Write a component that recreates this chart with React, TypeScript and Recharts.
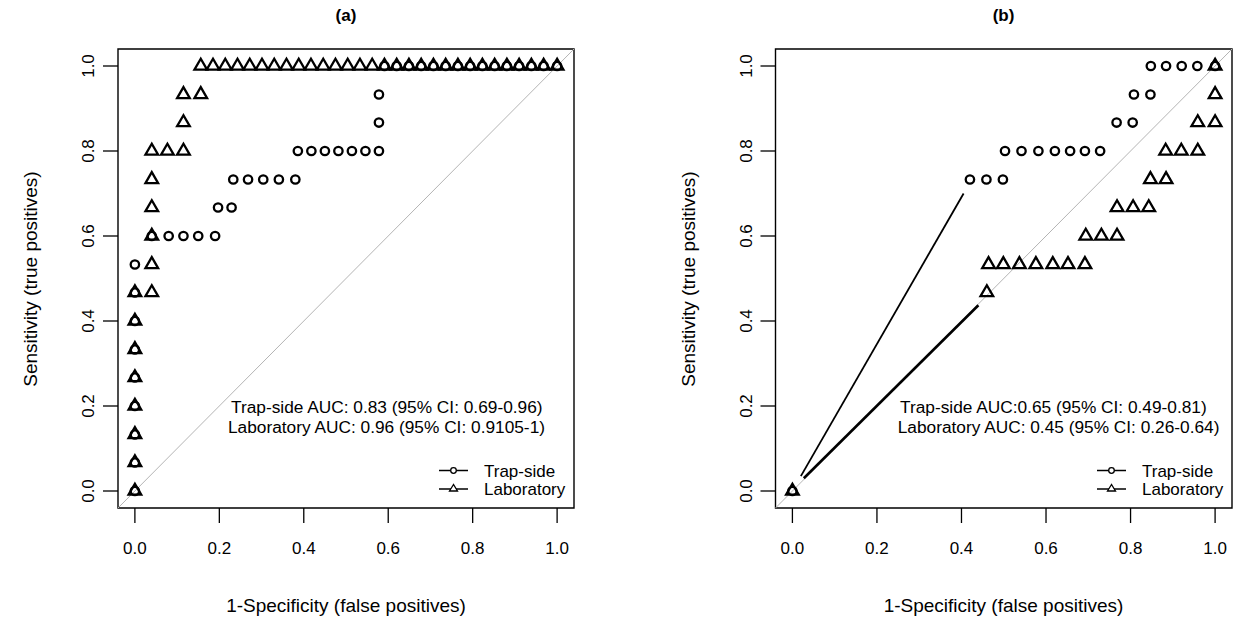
import React from 'react';
import { ScatterChart, Scatter, XAxis, YAxis, ReferenceLine, ReferenceArea } from 'recharts';

const axisTicks = [0, 0.2, 0.4, 0.6, 0.8, 1.0];
const seriesNames = ['Trap-side', 'Laboratory'];
const xTitle = '1-Specificity (false positives)';
const yTitle = 'Sensitivity (true positives)';

// panel (a)
const trapA_fpr = [0, 0, 0, 0, 0, 0, 0, 0, 0, 0.04, 0.08, 0.115, 0.15, 0.19, 0.197, 0.229, 0.233, 0.268, 0.304, 0.341, 0.38, 0.386, 0.418, 0.45, 0.482, 0.514, 0.546, 0.578, 0.578, 0.578, 0.591, 0.62, 0.649, 0.678, 0.707, 0.736, 0.765, 0.794, 0.823, 0.852, 0.881, 0.91, 0.939, 0.968, 1.0];
const trapA_tpr = [0, 0.067, 0.133, 0.2, 0.267, 0.333, 0.4, 0.467, 0.533, 0.6, 0.6, 0.6, 0.6, 0.6, 0.667, 0.667, 0.733, 0.733, 0.733, 0.733, 0.733, 0.8, 0.8, 0.8, 0.8, 0.8, 0.8, 0.8, 0.867, 0.933, 1, 1, 1, 1, 1, 1, 1, 1, 1, 1, 1, 1, 1, 1, 1];
const labA_fpr = [0, 0, 0, 0, 0, 0, 0, 0, 0.04, 0.04, 0.04, 0.04, 0.04, 0.04, 0.077, 0.115, 0.115, 0.115, 0.156, 0.156, 0.185, 0.214, 0.243, 0.272, 0.301, 0.33, 0.359, 0.388, 0.417, 0.446, 0.475, 0.504, 0.533, 0.562, 0.591, 0.62, 0.649, 0.678, 0.707, 0.736, 0.765, 0.794, 0.823, 0.852, 0.881, 0.91, 0.939, 0.968, 1.0];
const labA_tpr = [0, 0.067, 0.133, 0.2, 0.267, 0.333, 0.4, 0.467, 0.467, 0.533, 0.6, 0.667, 0.733, 0.8, 0.8, 0.8, 0.867, 0.933, 0.933, 1, 1, 1, 1, 1, 1, 1, 1, 1, 1, 1, 1, 1, 1, 1, 1, 1, 1, 1, 1, 1, 1, 1, 1, 1, 1, 1, 1, 1, 1];
const aucTextA = ['Trap-side AUC: 0.83 (95% CI: 0.69-0.96)', 'Laboratory AUC: 0.96 (95% CI: 0.9105-1)'];

// panel (b)
const trapB_fpr = [0, 0.42, 0.459, 0.498, 0.503, 0.542, 0.582, 0.621, 0.657, 0.692, 0.728, 0.767, 0.805, 0.808, 0.847, 0.848, 0.884, 0.921, 0.958, 1.0];
const trapB_tpr = [0, 0.733, 0.733, 0.733, 0.8, 0.8, 0.8, 0.8, 0.8, 0.8, 0.8, 0.867, 0.867, 0.933, 0.933, 1, 1, 1, 1, 1];
const labB_fpr = [0, 0.46, 0.464, 0.499, 0.537, 0.576, 0.616, 0.652, 0.692, 0.694, 0.731, 0.768, 0.768, 0.806, 0.843, 0.847, 0.884, 0.883, 0.92, 0.959, 0.959, 1.0, 1.0, 1.0];
const labB_tpr = [0, 0.467, 0.533, 0.533, 0.533, 0.533, 0.533, 0.533, 0.533, 0.6, 0.6, 0.6, 0.667, 0.667, 0.667, 0.733, 0.733, 0.8, 0.8, 0.8, 0.867, 0.867, 0.933, 1];
// long joining segments (type "b" lines with gaps)
const trapSegB_fpr = [0.02, 0.405];
const trapSegB_tpr = [0.035, 0.7];
const labSegB_fpr = [0.027, 0.44];
const labSegB_tpr = [0.03, 0.437];
const aucTextB = ['Trap-side AUC:0.65 (95% CI: 0.49-0.81)', 'Laboratory AUC: 0.45 (95% CI: 0.26-0.64)'];

const zip = (xs: number[], ys: number[]) => xs.map((x, i) => ({ x, y: ys[i] }));

const FONT = '"Liberation Sans", Arial, sans-serif';

const CircleMark = (p: any) => (
  <circle cx={p.cx} cy={p.cy} r={4.2} fill="none" stroke="#000" strokeWidth={2.3} />
);

const TriangleMark = (p: any) => {
  const r = 7.3;
  const xc = r * 0.866;
  return (
    <polygon
      points={`${p.cx},${p.cy - r} ${p.cx - xc},${p.cy + r / 2} ${p.cx + xc},${p.cy + r / 2}`}
      fill="none"
      stroke="#000"
      strokeWidth={2.3}
    />
  );
};

const NoMark = () => <g />;

const XTick = (p: any) => (
  <text x={p.x} y={p.y} dy={29} textAnchor="middle" fontSize={17} fontFamily={FONT} fill="#000">
    {Number(p.payload.value).toFixed(1)}
  </text>
);

const YTick = (p: any) => {
  const tx = p.x - 7;
  return (
    <text x={tx} y={p.y} transform={`rotate(-90 ${tx} ${p.y})`} textAnchor="middle" fontSize={17} fontFamily={FONT} fill="#000">
      {Number(p.payload.value).toFixed(1)}
    </text>
  );
};

const Panel = ({ left, marginLeft, marginRight, trap, lab, segs }: any) => (
  <div style={{ position: 'absolute', left, top: 0 }}>
    <ScatterChart width={617} height={624} margin={{ top: 49, right: marginRight, bottom: 56, left: marginLeft }}>
      <XAxis
        type="number"
        dataKey="x"
        domain={[-0.04, 1.04]}
        ticks={axisTicks}
        interval={0}
        allowDataOverflow
        axisLine={false}
        tickSize={15}
        tickLine={{ stroke: '#000', strokeWidth: 1.3 }}
        tick={<XTick />}
        height={60}
      />
      <YAxis
        type="number"
        dataKey="y"
        domain={[-0.04, 1.04]}
        ticks={axisTicks}
        interval={0}
        allowDataOverflow
        axisLine={false}
        tickSize={15}
        tickLine={{ stroke: '#000', strokeWidth: 1.3 }}
        tick={<YTick />}
        width={60}
      />
      <ReferenceArea x1={-0.04} x2={1.04} y1={-0.04} y2={1.04} fill="none" stroke="#000" strokeWidth={1.4} ifOverflow="visible" />
      <ReferenceLine segment={[{ x: -0.04, y: -0.04 }, { x: 1.04, y: 1.04 }]} stroke="#b4b4b4" strokeWidth={1} ifOverflow="visible" />
      {segs.map((s: any, i: number) => (
        <Scatter key={i} data={s.data} line={{ stroke: '#000', strokeWidth: s.w }} shape={<NoMark />} isAnimationActive={false} />
      ))}
      <Scatter name={seriesNames[0]} data={trap} shape={<CircleMark />} isAnimationActive={false} />
      <Scatter name={seriesNames[1]} data={lab} shape={<TriangleMark />} isAnimationActive={false} />
    </ScatterChart>
  </div>
);

const PanelText = ({ cx, boxLeft, title, auc, aucX, legendX }: any) => {
  const ytx = boxLeft - 81;
  return (
    <g fontFamily={FONT} fill="#000">
      <text x={cx} y={21} textAnchor="middle" fontSize={17} fontWeight="bold">{title}</text>
      <text x={cx} y={612} textAnchor="middle" fontSize={19}>{xTitle}</text>
      <text x={ytx} y={279} transform={`rotate(-90 ${ytx} 279)`} textAnchor="middle" fontSize={19}>{yTitle}</text>
      <text x={aucX[0]} y={413} fontSize={17.3}>{auc[0]}</text>
      <text x={aucX[1]} y={433} fontSize={17.3}>{auc[1]}</text>
      <line x1={legendX} x2={legendX + 29} y1={470.5} y2={470.5} stroke="#000" strokeWidth={1.5} />
      <circle cx={legendX + 14.5} cy={470.5} r={2.8} fill="#fff" stroke="#000" strokeWidth={1.3} />
      <line x1={legendX} x2={legendX + 29} y1={489} y2={489} stroke="#000" strokeWidth={1.5} />
      <polygon
        points={`${legendX + 14.5},${484.5} ${legendX + 10.5},${491} ${legendX + 18.5},${491}`}
        fill="#fff"
        stroke="#000"
        strokeWidth={1.3}
      />
      <text x={legendX + 45} y={476.5} fontSize={17}>{seriesNames[0]}</text>
      <text x={legendX + 45} y={495} fontSize={17}>{seriesNames[1]}</text>
    </g>
  );
};

export default function App() {
  const trapA = zip(trapA_fpr, trapA_tpr);
  const labA = zip(labA_fpr, labA_tpr);
  const trapB = zip(trapB_fpr, trapB_tpr);
  const labB = zip(labB_fpr, labB_tpr);
  const segsB = [
    { data: zip(trapSegB_fpr, trapSegB_tpr), w: 1.8 },
    { data: zip(labSegB_fpr, labSegB_tpr), w: 2.6 },
  ];
  return (
    <div style={{ position: 'absolute', left: 0, top: 0, width: 1234, height: 624, background: '#fff', overflow: 'hidden' }}>
      <Panel left={0} marginLeft={58} marginRight={43} trap={trapA} lab={labA} segs={[]} />
      <Panel left={617} marginLeft={98.5} marginRight={2} trap={trapB} lab={labB} segs={segsB} />
      <svg width={1234} height={624} style={{ position: 'absolute', left: 0, top: 0, pointerEvents: 'none' }}>
        <PanelText cx={346} boxLeft={118} title="(a)" auc={aucTextA} aucX={[231, 228]} legendX={439} />
        <PanelText cx={1003.5} boxLeft={775.5} title="(b)" auc={aucTextB} aucX={[900, 897.7]} legendX={1097} />
      </svg>
    </div>
  );
}
